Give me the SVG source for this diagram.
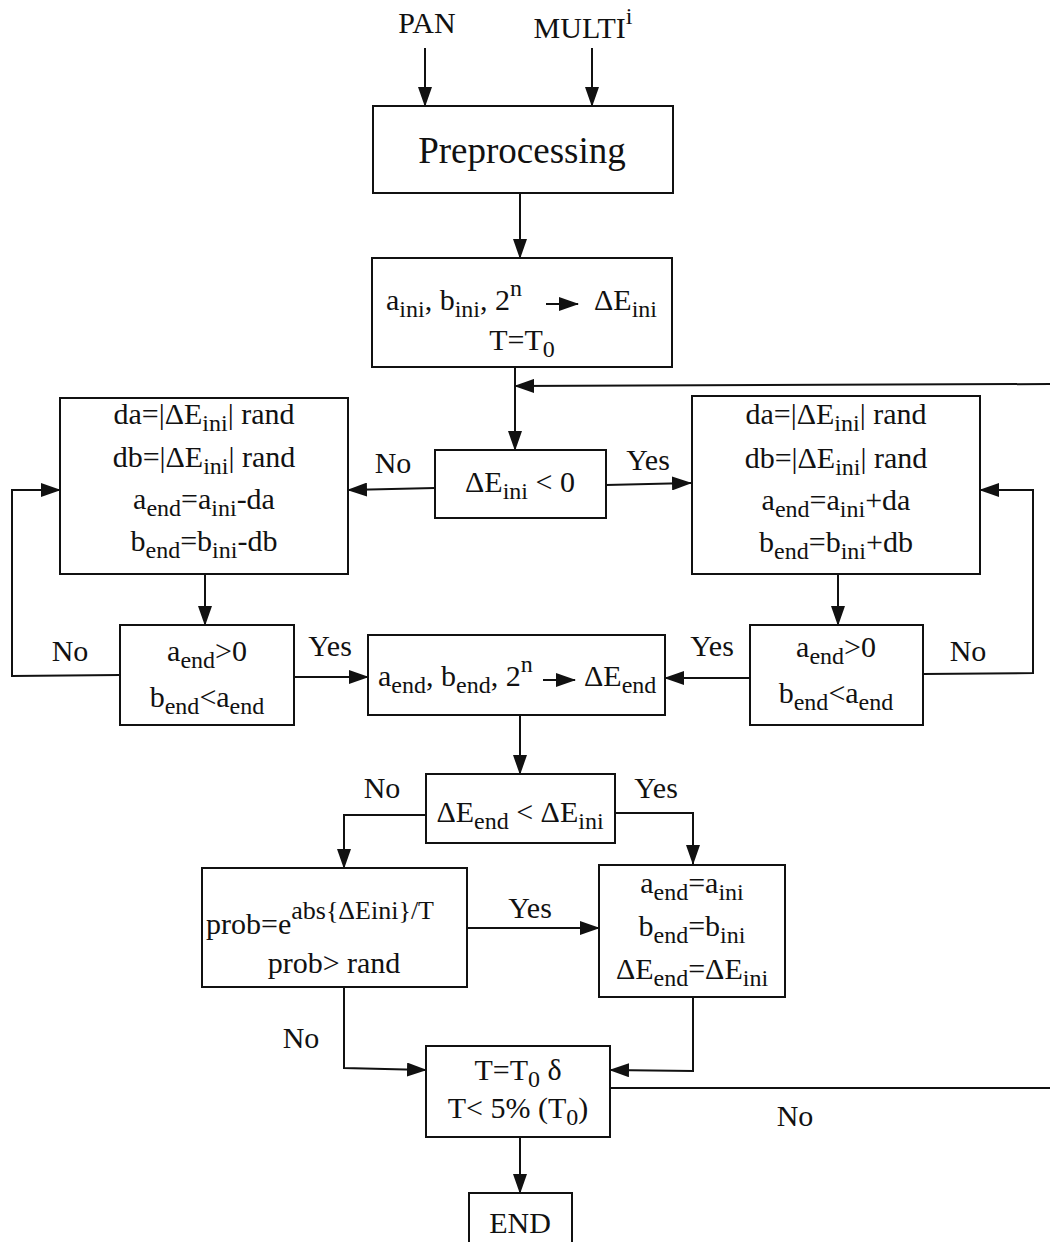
<svg xmlns="http://www.w3.org/2000/svg" width="1050" height="1242" viewBox="0 0 1050 1242">
<style>
text{font-family:"Liberation Serif","DejaVu Serif",serif;font-size:30px;fill:#111}
.box{fill:#fff;stroke:#111;stroke-width:2}
.ln{fill:none;stroke:#111;stroke-width:2}
.sub{font-size:24px}
.sup{font-size:26px}
.big{font-size:37px}
.m{text-anchor:middle}
</style>
<defs>
<marker id="ah" markerUnits="userSpaceOnUse" markerWidth="20" markerHeight="14" refX="19" refY="7" orient="auto">
<path d="M0,0 L20,7 L0,14 Z" fill="#111"/>
</marker>
</defs>
<rect width="1050" height="1242" fill="#fff"/>
<g id="connectors">
<line class="ln" x1="425" y1="48" x2="425" y2="106" marker-end="url(#ah)"/>
<line class="ln" x1="592" y1="48" x2="592" y2="106" marker-end="url(#ah)"/>
<line class="ln" x1="520" y1="193" x2="520" y2="258" marker-end="url(#ah)"/>
<line class="ln" x1="515" y1="367" x2="515" y2="450" marker-end="url(#ah)"/>
<line class="ln" x1="1050" y1="384" x2="515" y2="386" marker-end="url(#ah)"/>
<line class="ln" x1="435" y1="488" x2="348" y2="490" marker-end="url(#ah)"/>
<line class="ln" x1="606" y1="485" x2="691" y2="483" marker-end="url(#ah)"/>
<line class="ln" x1="205" y1="574" x2="205" y2="625" marker-end="url(#ah)"/>
<line class="ln" x1="838" y1="574" x2="838" y2="625" marker-end="url(#ah)"/>
<polyline class="ln" points="120,675 12,676 12,490 60,490" marker-end="url(#ah)"/>
<polyline class="ln" points="923,674 1033,673 1033,490 980,490" marker-end="url(#ah)"/>
<line class="ln" x1="294" y1="677" x2="368" y2="677" marker-end="url(#ah)"/>
<line class="ln" x1="750" y1="678" x2="665" y2="678" marker-end="url(#ah)"/>
<line class="ln" x1="520" y1="715" x2="520" y2="774" marker-end="url(#ah)"/>
<polyline class="ln" points="426,815 344,815 344,868" marker-end="url(#ah)"/>
<polyline class="ln" points="615,813 693,813 693,864" marker-end="url(#ah)"/>
<line class="ln" x1="467" y1="928" x2="599" y2="928" marker-end="url(#ah)"/>
<polyline class="ln" points="344,987 344,1068 426,1070" marker-end="url(#ah)"/>
<polyline class="ln" points="693,997 693,1071 610,1070" marker-end="url(#ah)"/>
<line class="ln" x1="610" y1="1088" x2="1050" y2="1088"/>
<line class="ln" x1="520" y1="1137" x2="520" y2="1193" marker-end="url(#ah)"/>
<text x="393" y="473" class="m">No</text>
<text x="648" y="470" class="m">Yes</text>
<text x="70" y="661" class="m">No</text>
<text x="330" y="656" class="m">Yes</text>
<text x="712" y="656" class="m">Yes</text>
<text x="968" y="661" class="m">No</text>
<text x="382" y="798" class="m">No</text>
<text x="656" y="798" class="m">Yes</text>
<text x="530" y="918" class="m">Yes</text>
<text x="301" y="1048" class="m">No</text>
<text x="795" y="1126" class="m">No</text>
</g>
<g id="input-pan"><text x="427" y="33" class="m">PAN</text></g>
<g id="input-multi"><text x="583" y="38" class="m">MULTI<tspan class="sub" dy="-14">i</tspan></text></g>
<g id="preprocessing">
<rect class="box" x="373" y="106" width="300" height="87"/>
<text x="522" y="163" class="m big">Preprocessing</text>
</g>
<g id="init">
<rect class="box" x="372" y="258" width="300" height="109"/>
<text x="386" y="310">a<tspan class="sub" dy="7">ini</tspan><tspan dy="-7">, b</tspan><tspan class="sub" dy="7">ini</tspan><tspan dy="-7">, 2</tspan><tspan class="sub" dy="-14">n</tspan></text>
<line class="ln" x1="546" y1="304" x2="578" y2="304" marker-end="url(#ah)"/>
<text x="594" y="310">ΔE<tspan class="sub" dy="7">ini</tspan></text>
<text x="522" y="350" class="m">T=T<tspan class="sub" dy="7">0</tspan></text>
</g>
<g id="cond-ini">
<rect class="box" x="435" y="450" width="171" height="68"/>
<text x="520" y="492" class="m">ΔE<tspan class="sub" dy="7">ini</tspan><tspan dy="-7"> &lt; 0</tspan></text>
</g>
<g id="decrease">
<rect class="box" x="60" y="398" width="288" height="176"/>
<text x="204" y="424" class="m">da=|ΔE<tspan class="sub" dy="7">ini</tspan><tspan dy="-7">| rand</tspan></text>
<text x="204" y="467" class="m">db=|ΔE<tspan class="sub" dy="7">ini</tspan><tspan dy="-7">| rand</tspan></text>
<text x="204" y="509" class="m">a<tspan class="sub" dy="7">end</tspan><tspan dy="-7">=a</tspan><tspan class="sub" dy="7">ini</tspan><tspan dy="-7">-da</tspan></text>
<text x="204" y="551" class="m">b<tspan class="sub" dy="7">end</tspan><tspan dy="-7">=b</tspan><tspan class="sub" dy="7">ini</tspan><tspan dy="-7">-db</tspan></text>
</g>
<g id="increase">
<rect class="box" x="692" y="396" width="288" height="178"/>
<text x="836" y="424" class="m">da=|ΔE<tspan class="sub" dy="7">ini</tspan><tspan dy="-7">| rand</tspan></text>
<text x="836" y="468" class="m">db=|ΔE<tspan class="sub" dy="7">ini</tspan><tspan dy="-7">| rand</tspan></text>
<text x="836" y="510" class="m">a<tspan class="sub" dy="7">end</tspan><tspan dy="-7">=a</tspan><tspan class="sub" dy="7">ini</tspan><tspan dy="-7">+da</tspan></text>
<text x="836" y="552" class="m">b<tspan class="sub" dy="7">end</tspan><tspan dy="-7">=b</tspan><tspan class="sub" dy="7">ini</tspan><tspan dy="-7">+db</tspan></text>
</g>
<g id="check-left">
<rect class="box" x="120" y="625" width="174" height="100"/>
<text x="207" y="661" class="m">a<tspan class="sub" dy="7">end</tspan><tspan dy="-7">&gt;0</tspan></text>
<text x="207" y="707" class="m">b<tspan class="sub" dy="7">end</tspan><tspan dy="-7">&lt;a</tspan><tspan class="sub" dy="7">end</tspan></text>
</g>
<g id="check-right">
<rect class="box" x="750" y="625" width="173" height="100"/>
<text x="836" y="657" class="m">a<tspan class="sub" dy="7">end</tspan><tspan dy="-7">&gt;0</tspan></text>
<text x="836" y="703" class="m">b<tspan class="sub" dy="7">end</tspan><tspan dy="-7">&lt;a</tspan><tspan class="sub" dy="7">end</tspan></text>
</g>
<g id="energy-end">
<rect class="box" x="368" y="635" width="297" height="80"/>
<text x="378" y="686">a<tspan class="sub" dy="7">end</tspan><tspan dy="-7">, b</tspan><tspan class="sub" dy="7">end</tspan><tspan dy="-7">, 2</tspan><tspan class="sub" dy="-14">n</tspan></text>
<line class="ln" x1="543" y1="680" x2="575" y2="680" marker-end="url(#ah)"/>
<text x="584" y="686">ΔE<tspan class="sub" dy="7">end</tspan></text>
</g>
<g id="cond-end">
<rect class="box" x="426" y="774" width="189" height="69"/>
<text x="520" y="822" class="m">ΔE<tspan class="sub" dy="7">end</tspan><tspan dy="-7"> &lt; ΔE</tspan><tspan class="sub" dy="7">ini</tspan></text>
</g>
<g id="prob">
<rect class="box" x="202" y="868" width="265" height="119"/>
<text x="206" y="934">prob=e<tspan class="sup" dy="-15">abs{ΔEini}/T</tspan></text>
<text x="334" y="973" class="m">prob&gt; rand</text>
</g>
<g id="keep">
<rect class="box" x="599" y="865" width="186" height="132"/>
<text x="692" y="893" class="m">a<tspan class="sub" dy="7">end</tspan><tspan dy="-7">=a</tspan><tspan class="sub" dy="7">ini</tspan></text>
<text x="692" y="936" class="m">b<tspan class="sub" dy="7">end</tspan><tspan dy="-7">=b</tspan><tspan class="sub" dy="7">ini</tspan></text>
<text x="692" y="979" class="m">ΔE<tspan class="sub" dy="7">end</tspan><tspan dy="-7">=ΔE</tspan><tspan class="sub" dy="7">ini</tspan></text>
</g>
<g id="temperature">
<rect class="box" x="426" y="1046" width="184" height="91"/>
<text x="518" y="1080" class="m">T=T<tspan class="sub" dy="7">0</tspan><tspan dy="-7"> δ</tspan></text>
<text x="518" y="1118" class="m">T&lt; 5% (T<tspan class="sub" dy="7">0</tspan><tspan dy="-7">)</tspan></text>
</g>
<g id="end">
<rect class="box" x="469" y="1193" width="103" height="60"/>
<text x="520" y="1233" class="m">END</text>
</g>
</svg>
